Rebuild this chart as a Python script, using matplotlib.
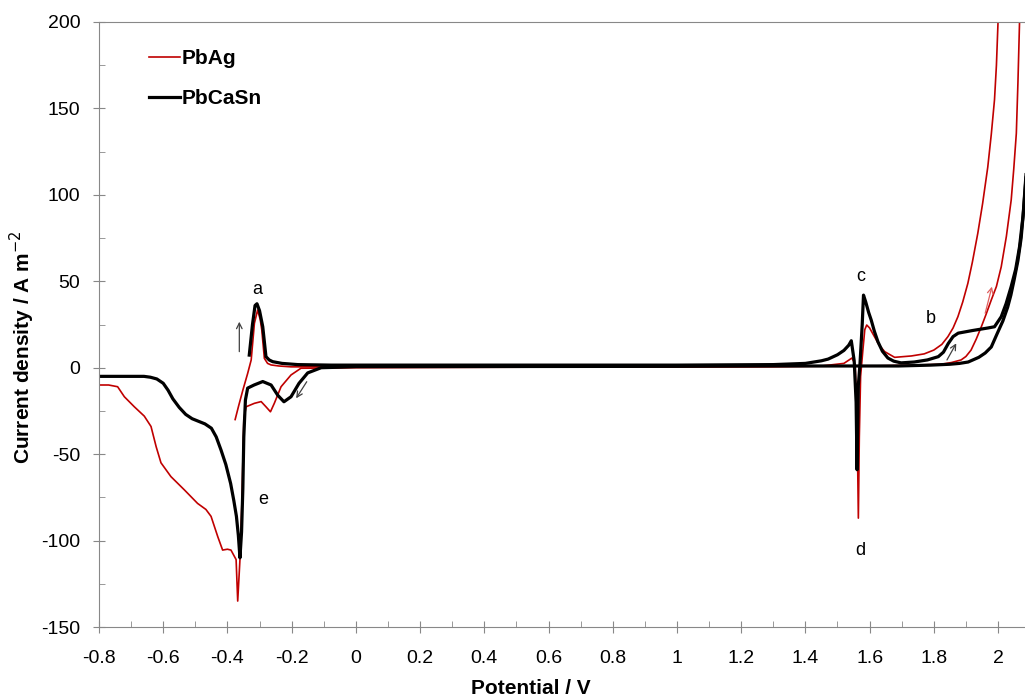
import matplotlib
matplotlib.use("Agg")
import matplotlib.pyplot as plt
from matplotlib.ticker import MultipleLocator

plt.rcParams["font.family"] = ["Liberation Sans", "DejaVu Sans"]
plt.rcParams["axes.unicode_minus"] = False

# PbCaSn (black) - anodic (forward) sweep
bk_fwd_x = [-0.332, -0.322, -0.314, -0.308, -0.300, -0.290, -0.280, -0.270, -0.259, -0.230,
            -0.181, -0.077, 0.2, 0.6, 1.0, 1.3, 1.40, 1.45, 1.471, 1.50, 1.52, 1.535, 1.543,
            1.552, 1.558, 1.561, 1.565, 1.570, 1.577, 1.581, 1.588, 1.597, 1.605, 1.615, 1.626,
            1.64, 1.657, 1.675, 1.698, 1.739, 1.78, 1.814, 1.83, 1.845, 1.86, 1.876, 1.92, 1.969,
            1.989, 2.01, 2.025, 2.041, 2.055, 2.067, 2.078, 2.088, 2.095]
bk_fwd_y = [7.3, 25, 36, 37, 33, 23.7, 6.4, 4.5, 3.5, 2.5,
            1.8, 1.5, 1.5, 1.5, 1.5, 1.8, 2.5, 4, 5, 7.5, 10, 13, 15.6,
            4, -20, -59, -10, 2, 25, 42, 38, 32, 27.6, 21, 15,
            9.5, 5.6, 3.8, 2.8, 3.3, 4.5, 6.4, 9, 14, 18, 20, 21.5, 23,
            23.7, 29.5, 37, 47, 57, 70, 88, 114, 125]

# PbCaSn (black) - cathodic (reverse) sweep
bk_rev_x = [2.095, 2.088, 2.08, 2.072, 2.062, 2.05, 2.04, 2.03, 2.015, 1.998, 1.979, 1.96,
            1.94, 1.907, 1.88, 1.85, 1.79, 1.689, 1.6, 1.5, 1.3, 1.0, 0.5, 0.0, -0.05, -0.108,
            -0.15, -0.177, -0.202, -0.224, -0.243, -0.264, -0.29, -0.317, -0.337, -0.344,
            -0.349, -0.352, -0.356, -0.361, -0.366, -0.372, -0.38, -0.39, -0.405, -0.42,
            -0.435, -0.45, -0.47, -0.49, -0.51, -0.53, -0.55, -0.57, -0.585, -0.60, -0.62,
            -0.64, -0.66, -0.70, -0.75, -0.8]
bk_rev_y = [125, 112, 92, 75, 62, 50.7, 42, 35, 27, 20, 12, 8.5,
            6, 3.3, 2.5, 2, 1.5, 1, 1, 1, 1, 0.8, 0.7, 0.6, 0.3, 0,
            -3, -9, -16.8, -19.7, -16, -10, -8, -10, -11.8, -18.7,
            -40, -70, -95, -110, -97, -86, -77, -67, -56, -47.6,
            -40, -35, -32.5, -31, -29.5, -27, -23, -18, -13, -9, -6.5,
            -5.5, -5, -5, -5, -5]

# PbAg (red) - anodic (forward) sweep
rd_fwd_x = [-0.376, -0.365, -0.352, -0.337, -0.326, -0.316, -0.306, -0.298, -0.293, -0.285,
            -0.275, -0.264, -0.24, -0.202, -0.1, 0.2, 0.6, 1.0, 1.3, 1.45, 1.52, 1.545, 1.555,
            1.561, 1.565, 1.568, 1.572, 1.579, 1.585, 1.591, 1.60, 1.615, 1.63, 1.647, 1.678,
            1.73, 1.77, 1.80, 1.825, 1.844, 1.86, 1.875, 1.89, 1.906, 1.92, 1.937, 1.952, 1.968,
            1.979, 1.989, 1.995, 2.0, 2.003]
rd_fwd_y = [-30, -22, -13, -3.3, 4.5, 25.7, 33.4, 28, 21.8, 5.4,
            2.5, 1.6, 1, 0.5, 0.5, 0.5, 0.5, 0.5, 0.6, 1, 2.5, 5.6, 2,
            -30, -87, -40, -5, 10, 22, 24.7, 23, 18, 13, 9.3, 6,
            6.8, 8, 10.2, 13.5, 18, 23, 29.5, 38, 48.8, 61, 77.8, 95, 116,
            135, 155, 175, 200, 215]

# PbAg (red) - cathodic (reverse) sweep
rd_rev_x = [2.069, 2.067, 2.062, 2.057, 2.049, 2.041, 2.026, 2.01, 1.995, 1.979, 1.963, 1.948,
            1.932, 1.916, 1.90, 1.885, 1.855, 1.823, 1.74, 1.6, 1.4, 1.0, 0.5, 0.0, -0.1, -0.171,
            -0.202, -0.233, -0.254, -0.266, -0.28, -0.295, -0.316, -0.342, -0.349, -0.355,
            -0.361, -0.368, -0.373, -0.389, -0.40, -0.415, -0.43, -0.451, -0.467, -0.493,
            -0.534, -0.576, -0.607, -0.622, -0.638, -0.659, -0.69, -0.721, -0.742, -0.77, -0.8]
rd_rev_y = [215, 200, 165, 135.6, 115, 97, 76, 58.4, 47, 39.2, 31, 23.7,
            16.5, 10.2, 6.5, 4.5, 3, 2, 1.5, 1, 0.8, 0.5, 0.3, 0, -0.2, -0.3,
            -4.2, -11, -20.6, -25.5, -22.6, -19.6, -20.6, -22.6, -30, -78.5,
            -111, -135, -111, -105.5, -105, -105.5, -97.8, -86, -82, -78.5,
            -70.7, -63, -55, -45.7, -34, -28, -22.6, -16.8, -11, -10, -10]

# peak labels
peak_names = ["a", "b", "c", "d", "e"]
peak_x = [-0.308, 1.792, 1.571, 1.571, -0.289]
peak_y = [45, 28.7, 53, -106, -76.5]

fig = plt.figure(figsize=(10.25, 6.99), dpi=100)
ax = fig.add_axes([99 / 1025, 1 - 627 / 699, 1 - 99 / 1025, (627 - 22) / 699])

red = "#c00000"
ax.plot(rd_fwd_x, rd_fwd_y, color=red, lw=1.2, label="PbAg")
ax.plot(rd_rev_x, rd_rev_y, color=red, lw=1.2)
ax.plot(bk_fwd_x, bk_fwd_y, color="black", lw=2.3, label="PbCaSn")
ax.plot(bk_rev_x, bk_rev_y, color="black", lw=2.3)

for n, x, y in zip(peak_names, peak_x, peak_y):
    ax.text(x, y, n, fontsize=13, ha="center", va="center")

arr = dict(arrowstyle="->", color="#404040", lw=0.9, shrinkA=0, shrinkB=0)
ax.annotate("", xy=(-0.363, 26.6), xytext=(-0.363, 9.3), arrowprops=arr)
ax.annotate("", xy=(-0.186, -17.7), xytext=(-0.153, -8.1), arrowprops=arr)
ax.annotate("", xy=(1.870, 14.1), xytext=(1.841, 4.5), arrowprops=arr)
ax.annotate("", xy=(1.981, 46.9), xytext=(1.960, 31.5),
            arrowprops=dict(arrowstyle="->", color="#e06060", lw=0.9, shrinkA=0, shrinkB=0))

ax.set_xlim(-0.8, 2.084)
ax.set_ylim(-150, 200)
ax.xaxis.set_major_locator(MultipleLocator(0.2))
ax.xaxis.set_minor_locator(MultipleLocator(0.1))
ax.yaxis.set_major_locator(MultipleLocator(50))
ax.yaxis.set_minor_locator(MultipleLocator(25))
ax.xaxis.set_major_formatter(plt.FuncFormatter(lambda v, p: "0" if abs(v) < 1e-9 else f"{v:g}"))

for s in ["left", "bottom", "top"]:
    ax.spines[s].set_color("#888888")
ax.spines["right"].set_visible(False)
ax.tick_params(which="major", direction="inout", length=9, color="#888888", labelsize=14)
ax.tick_params(which="minor", direction="in", length=4, color="#888888")
ax.tick_params(axis="x", pad=12)
ax.tick_params(axis="y", pad=9)

ax.set_xlabel("Potential / V", fontsize=15, fontweight="bold")
ax.xaxis.set_label_coords(0.4665, -0.086)
ax.set_ylabel("Current density / A m$^{-2}$", fontsize=15, fontweight="bold")
ax.yaxis.set_label_coords(-0.067, 0.463)

ax.legend(loc="upper left", bbox_to_anchor=(0.034, 0.986), frameon=False, handlelength=1.5,
          handletextpad=0.05, labelspacing=1.0, prop={"weight": "bold", "size": 15})

fig.savefig("out.png", dpi=100)
